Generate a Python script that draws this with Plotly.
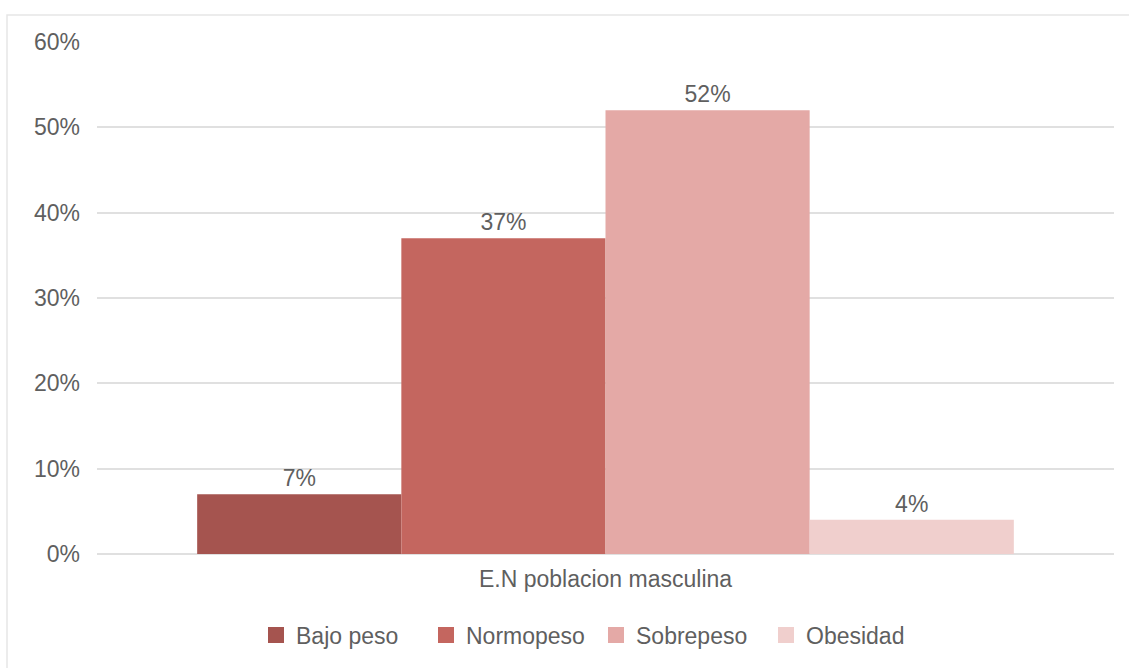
import plotly.graph_objects as go

# Estado nutricional (E.N) de la población masculina
category = ["E.N poblacion masculina"]
series_names = ["Bajo peso", "Normopeso", "Sobrepeso", "Obesidad"]
series_values = [7, 37, 52, 4]
series_colors = ["#A5544F", "#C4665F", "#E4A9A6", "#F0CFCD"]
y_ticks = [0, 10, 20, 30, 40, 50, 60]
y_tick_labels = ["0%", "10%", "20%", "30%", "40%", "50%", "60%"]

W, H = 1129, 668
L, R, T, B = 97, 15, 42, 114
FONT = "Liberation Sans, Arial, sans-serif"
TXT = "#5F5F5F"
FS = 23

fig = go.Figure()
for name, val, col in zip(series_names, series_values, series_colors):
    fig.add_trace(go.Bar(
        x=category, y=[val], name=name, showlegend=False,
        marker=dict(color=col, line=dict(width=0)),
        text=[f"{val}%"], textposition="outside",
        textfont=dict(family=FONT, size=FS, color=TXT),
        cliponaxis=False,
    ))

# legend entries with larger square swatches
for name, col in zip(series_names, series_colors):
    fig.add_trace(go.Scatter(
        x=[None], y=[None], name=name, mode="markers",
        marker=dict(symbol="square", size=17, color=col, line=dict(width=0)),
        showlegend=True,
    ))

# outer frame of the chart
px = lambda v: (v - L) / (W - L - R)
py = lambda v: 1 - (v - T) / (H - T - B)
fig.add_shape(type="rect", xref="paper", yref="paper",
              x0=px(7), x1=px(W + 10), y0=py(H + 10), y1=py(15),
              line=dict(color="#E6E6E6", width=1.5), fillcolor="rgba(0,0,0,0)", layer="below")

fig.update_layout(
    width=W, height=H,
    margin=dict(l=L, r=R, t=T, b=B),
    paper_bgcolor="white", plot_bgcolor="white",
    barmode="group", bargap=0.197, bargroupgap=0,
    font=dict(family=FONT, size=FS, color=TXT),
    showlegend=True,
    legend=dict(orientation="h", x=px(256), xanchor="left", y=py(635), yanchor="middle",
                font=dict(family=FONT, size=FS, color=TXT), itemwidth=30,
                entrywidth=125, entrywidthmode="pixels",
                traceorder="normal"),
    xaxis=dict(showgrid=False, showline=False, ticks="", ticklabelstandoff=9,
               tickfont=dict(family=FONT, size=FS, color=TXT)),
    yaxis=dict(range=[0, 60], tickvals=y_ticks, ticktext=y_tick_labels,
               showgrid=True, gridcolor="#E0E0E0", gridwidth=1.5,
               zeroline=True, zerolinecolor="#E0E0E0", zerolinewidth=1.5,
               showline=False, ticks="", ticklabelstandoff=16,
               tickfont=dict(family=FONT, size=FS, color=TXT)),
)

fig.write_html("out.html")
